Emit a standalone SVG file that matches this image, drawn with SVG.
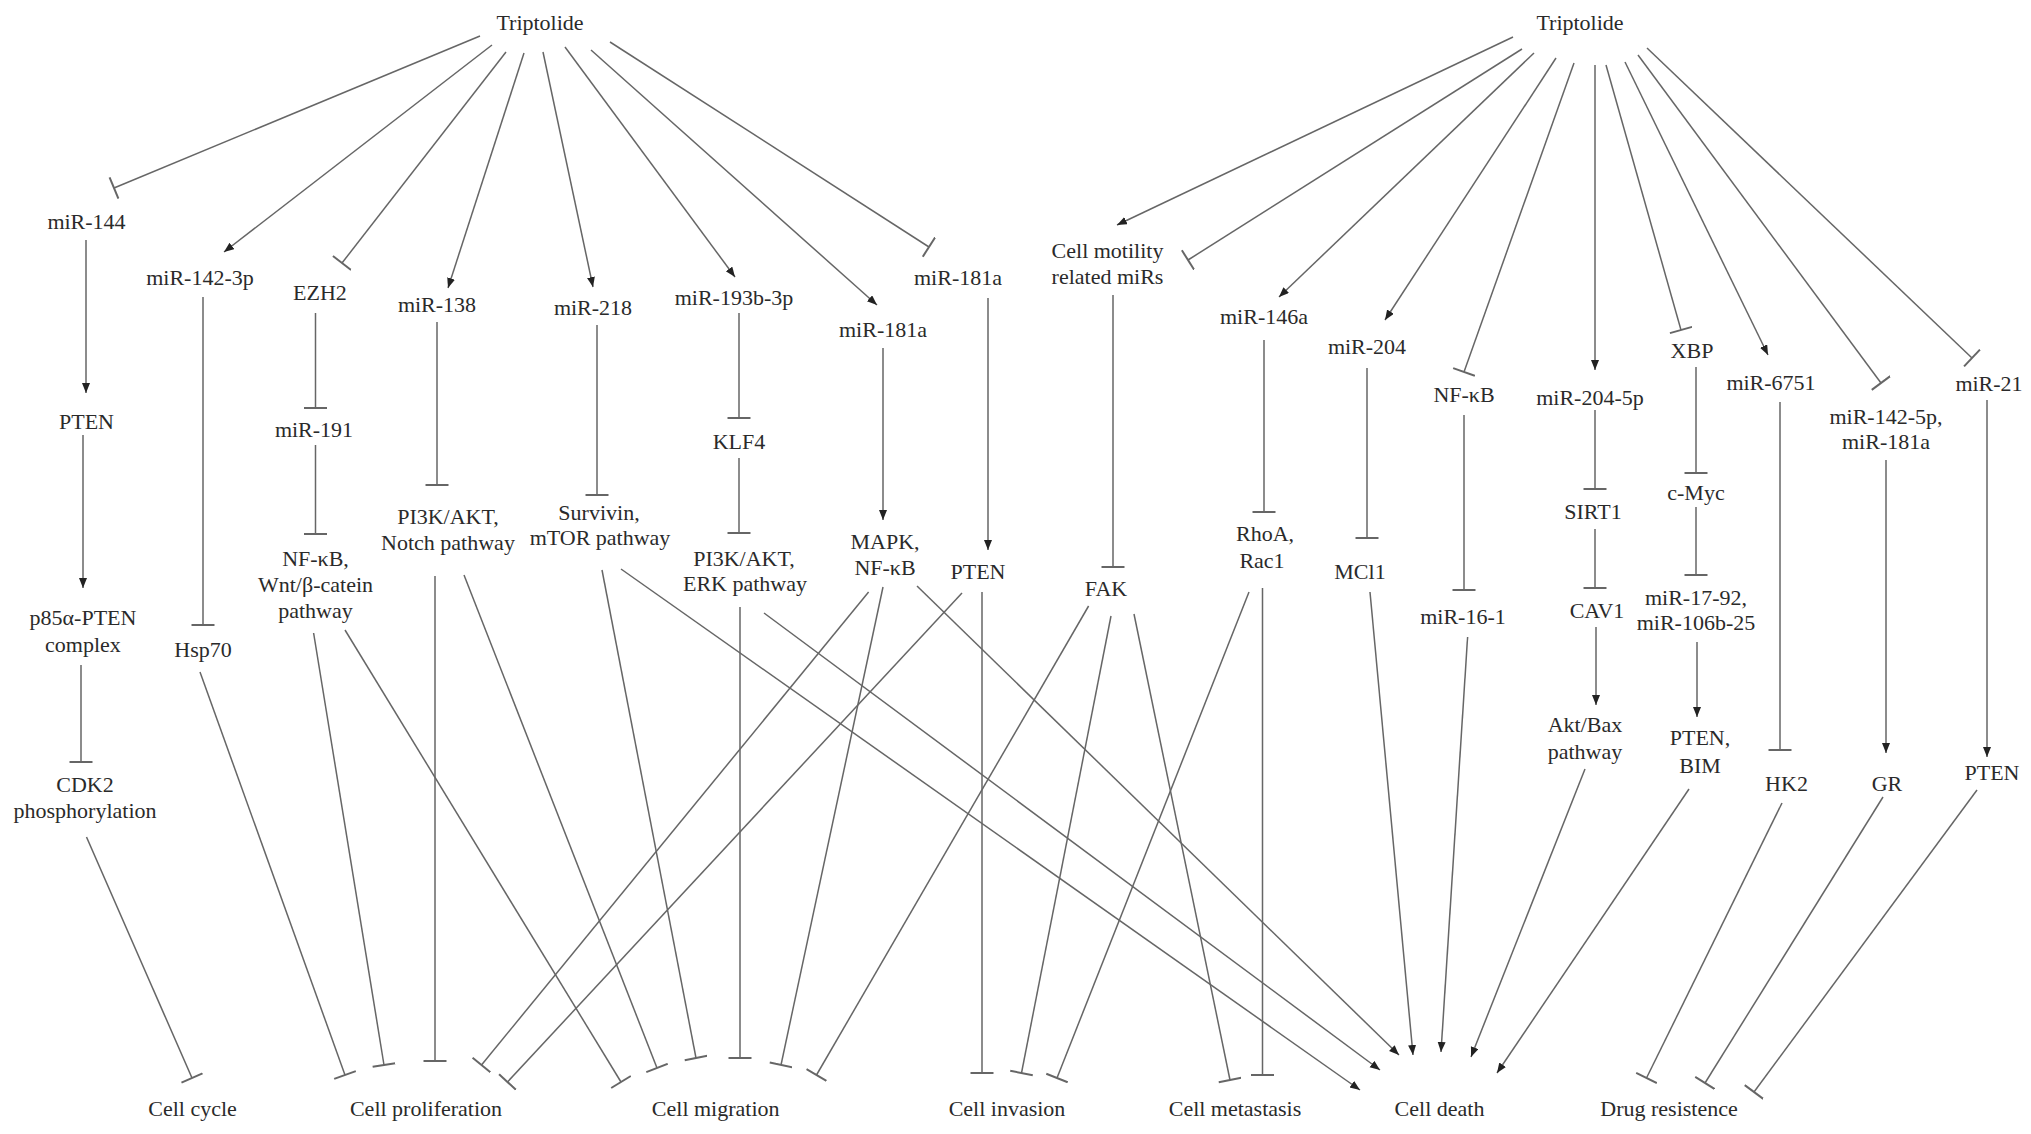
<svg xmlns="http://www.w3.org/2000/svg" width="2031" height="1134" viewBox="0 0 2031 1134">
<style>
text{font-family:"Liberation Serif","Times New Roman",serif;font-size:22px;fill:#2a2a2a;text-anchor:middle}
.c line{stroke:#666;stroke-width:1.5;fill:none}
.a{marker-end:url(#arr)}
.t{marker-end:url(#bar)}
</style>
<defs>
<marker id="arr" markerUnits="userSpaceOnUse" markerWidth="12" markerHeight="10" refX="10" refY="4" orient="auto"><path d="M0,0 L10,4 L0,8 z" fill="#222"/></marker>
<marker id="bar" markerUnits="userSpaceOnUse" markerWidth="4" markerHeight="24" refX="1.5" refY="11.5" orient="auto"><path d="M1.5,0 V23" stroke="#666" stroke-width="2"/></marker>
</defs>
<rect width="2031" height="1134" fill="#fff"/>
<g class="c" id="connectors">
<line class="t" x1="480" y1="36" x2="114" y2="188"/>
<line class="a" x1="492" y1="45" x2="224" y2="252"/>
<line class="t" x1="506" y1="52" x2="342" y2="263"/>
<line class="a" x1="524" y1="53" x2="448" y2="288"/>
<line class="a" x1="543" y1="52" x2="593" y2="287"/>
<line class="a" x1="565" y1="47" x2="735" y2="277"/>
<line class="a" x1="591" y1="50" x2="877" y2="305"/>
<line class="t" x1="610" y1="42" x2="929" y2="247"/>
<line class="a" x1="86" y1="240" x2="86" y2="393"/>
<line class="a" x1="83" y1="435" x2="83" y2="588"/>
<line class="t" x1="81" y1="665" x2="81" y2="762"/>
<line class="t" x1="86.5" y1="837" x2="192" y2="1078"/>
<line class="t" x1="203" y1="297" x2="203" y2="625"/>
<line class="t" x1="200" y1="672" x2="345" y2="1075"/>
<line class="t" x1="315.5" y1="313" x2="315.5" y2="408"/>
<line class="t" x1="315.5" y1="445" x2="315.5" y2="534"/>
<line class="t" x1="313.6" y1="633" x2="384" y2="1065"/>
<line class="t" x1="345" y1="630" x2="621" y2="1082"/>
<line class="t" x1="437" y1="322" x2="437" y2="485"/>
<line class="t" x1="435" y1="576" x2="435" y2="1061"/>
<line class="t" x1="464" y1="575" x2="657" y2="1068"/>
<line class="t" x1="597" y1="325" x2="597" y2="495"/>
<line class="t" x1="602" y1="570" x2="696" y2="1058"/>
<line class="a" x1="621" y1="569" x2="1360" y2="1090"/>
<line class="t" x1="739" y1="313" x2="739" y2="418"/>
<line class="t" x1="739" y1="458" x2="739" y2="533"/>
<line class="t" x1="740" y1="607" x2="740" y2="1058"/>
<line class="a" x1="764" y1="613" x2="1380" y2="1070"/>
<line class="a" x1="883" y1="348" x2="883" y2="520"/>
<line class="t" x1="868.6" y1="592" x2="481.5" y2="1065"/>
<line class="t" x1="883" y1="587" x2="781" y2="1065"/>
<line class="a" x1="917" y1="586" x2="1399" y2="1055"/>
<line class="a" x1="988" y1="298" x2="988" y2="550"/>
<line class="t" x1="962" y1="593" x2="507.5" y2="1082"/>
<line class="t" x1="982" y1="592" x2="982" y2="1073"/>
<line class="a" x1="1513" y1="37" x2="1117" y2="225"/>
<line class="t" x1="1522" y1="49" x2="1188" y2="260"/>
<line class="a" x1="1534" y1="53" x2="1279" y2="297"/>
<line class="a" x1="1556" y1="58" x2="1385" y2="320"/>
<line class="t" x1="1574" y1="63" x2="1464" y2="372"/>
<line class="a" x1="1595" y1="65" x2="1595" y2="370"/>
<line class="t" x1="1606" y1="65" x2="1681" y2="330"/>
<line class="a" x1="1625" y1="62" x2="1768" y2="355"/>
<line class="t" x1="1638" y1="55" x2="1881" y2="383"/>
<line class="t" x1="1647" y1="48" x2="1972" y2="358"/>
<line class="t" x1="1113" y1="295" x2="1113" y2="567"/>
<line class="t" x1="1088.6" y1="606" x2="816.5" y2="1075"/>
<line class="t" x1="1111" y1="616" x2="1021.5" y2="1073"/>
<line class="t" x1="1134" y1="614" x2="1230" y2="1080"/>
<line class="t" x1="1264" y1="340" x2="1264" y2="512"/>
<line class="t" x1="1249" y1="592" x2="1057" y2="1078"/>
<line class="t" x1="1262.5" y1="588" x2="1262.5" y2="1075"/>
<line class="t" x1="1367" y1="368" x2="1367" y2="538"/>
<line class="a" x1="1370" y1="592" x2="1413" y2="1055"/>
<line class="t" x1="1464" y1="415" x2="1464" y2="590"/>
<line class="a" x1="1467.6" y1="637" x2="1441" y2="1052"/>
<line class="t" x1="1595" y1="410" x2="1595" y2="489"/>
<line class="t" x1="1595" y1="529" x2="1595" y2="588"/>
<line class="a" x1="1596" y1="627" x2="1596" y2="705"/>
<line class="a" x1="1585" y1="769" x2="1471" y2="1057"/>
<line class="t" x1="1696" y1="367" x2="1696" y2="473"/>
<line class="t" x1="1696" y1="507" x2="1696" y2="575"/>
<line class="a" x1="1697" y1="642" x2="1697" y2="717"/>
<line class="a" x1="1689" y1="789" x2="1497" y2="1073"/>
<line class="t" x1="1780" y1="402" x2="1780" y2="750"/>
<line class="t" x1="1782" y1="803" x2="1646.5" y2="1078"/>
<line class="a" x1="1886" y1="460" x2="1886" y2="753"/>
<line class="t" x1="1883" y1="797" x2="1705" y2="1083"/>
<line class="a" x1="1987" y1="400" x2="1987" y2="757"/>
<line class="t" x1="1977" y1="790" x2="1754" y2="1092"/>
</g>
<g id="n-trip1"><text x="540" y="30">Triptolide</text></g>
<g id="n-mir144"><text x="86.5" y="229">miR-144</text></g>
<g id="n-mir1423p"><text x="200" y="285">miR-142-3p</text></g>
<g id="n-ezh2"><text x="320" y="300">EZH2</text></g>
<g id="n-mir138"><text x="437" y="312">miR-138</text></g>
<g id="n-mir218"><text x="593" y="315">miR-218</text></g>
<g id="n-mir193"><text x="734" y="305">miR-193b-3p</text></g>
<g id="n-mir181a-m"><text x="883" y="337">miR-181a</text></g>
<g id="n-mir181a-r"><text x="958" y="285">miR-181a</text></g>
<g id="n-pten1"><text x="86.5" y="429">PTEN</text></g>
<g id="n-mir191"><text x="314" y="437">miR-191</text></g>
<g id="n-klf4"><text x="739" y="449">KLF4</text></g>
<g id="n-pi3k-notch"><text x="448" y="524">PI3K/AKT,</text><text x="448" y="550">Notch pathway</text></g>
<g id="n-survivin"><text x="599" y="520">Survivin,</text><text x="600" y="545">mTOR pathway</text></g>
<g id="n-pi3k-erk"><text x="744" y="566">PI3K/AKT,</text><text x="745" y="591">ERK pathway</text></g>
<g id="n-mapk"><text x="885" y="549">MAPK,</text><text x="885" y="575">NF-κB</text></g>
<g id="n-pten2"><text x="978" y="579">PTEN</text></g>
<g id="n-nfkb-wnt"><text x="315.5" y="566">NF-κB,</text><text x="315.5" y="592">Wnt/β-catein</text><text x="315.5" y="618">pathway</text></g>
<g id="n-p85"><text x="83" y="625">p85α-PTEN</text><text x="83" y="652">complex</text></g>
<g id="n-hsp70"><text x="203" y="657">Hsp70</text></g>
<g id="n-cdk2"><text x="85" y="792">CDK2</text><text x="85" y="818">phosphorylation</text></g>
<g id="n-trip2"><text x="1580" y="30">Triptolide</text></g>
<g id="n-cellmot"><text x="1107.5" y="258">Cell motility</text><text x="1107.5" y="284">related miRs</text></g>
<g id="n-mir146a"><text x="1264" y="324">miR-146a</text></g>
<g id="n-mir204"><text x="1367" y="354">miR-204</text></g>
<g id="n-nfkb2"><text x="1464" y="402">NF-κB</text></g>
<g id="n-mir2045p"><text x="1590" y="405">miR-204-5p</text></g>
<g id="n-xbp"><text x="1692" y="358">XBP</text></g>
<g id="n-mir6751"><text x="1771" y="390">miR-6751</text></g>
<g id="n-mir1425p"><text x="1886" y="424">miR-142-5p,</text><text x="1886" y="449">miR-181a</text></g>
<g id="n-mir21"><text x="1989" y="391">miR-21</text></g>
<g id="n-rhoa"><text x="1265" y="541">RhoA,</text><text x="1262" y="568">Rac1</text></g>
<g id="n-mcl1"><text x="1360" y="579">MCl1</text></g>
<g id="n-fak"><text x="1106" y="596">FAK</text></g>
<g id="n-mir161"><text x="1463" y="624">miR-16-1</text></g>
<g id="n-sirt1"><text x="1593" y="519">SIRT1</text></g>
<g id="n-cav1"><text x="1597" y="618">CAV1</text></g>
<g id="n-cmyc"><text x="1696" y="500">c-Myc</text></g>
<g id="n-mir1792"><text x="1696" y="605">miR-17-92,</text><text x="1696" y="630">miR-106b-25</text></g>
<g id="n-aktbax"><text x="1585" y="732">Akt/Bax</text><text x="1585" y="759">pathway</text></g>
<g id="n-ptenbim"><text x="1700" y="745">PTEN,</text><text x="1700" y="773">BIM</text></g>
<g id="n-hk2"><text x="1786.5" y="791">HK2</text></g>
<g id="n-gr"><text x="1887" y="791">GR</text></g>
<g id="n-pten3"><text x="1992" y="780">PTEN</text></g>
<g id="n-cellcycle"><text x="192.6" y="1116">Cell cycle</text></g>
<g id="n-prolif"><text x="426" y="1116">Cell proliferation</text></g>
<g id="n-migration"><text x="715.7" y="1116">Cell migration</text></g>
<g id="n-invasion"><text x="1007" y="1116">Cell invasion</text></g>
<g id="n-metastasis"><text x="1235" y="1116">Cell metastasis</text></g>
<g id="n-death"><text x="1439.5" y="1116">Cell death</text></g>
<g id="n-drug"><text x="1669" y="1116">Drug resistence</text></g>
</svg>
